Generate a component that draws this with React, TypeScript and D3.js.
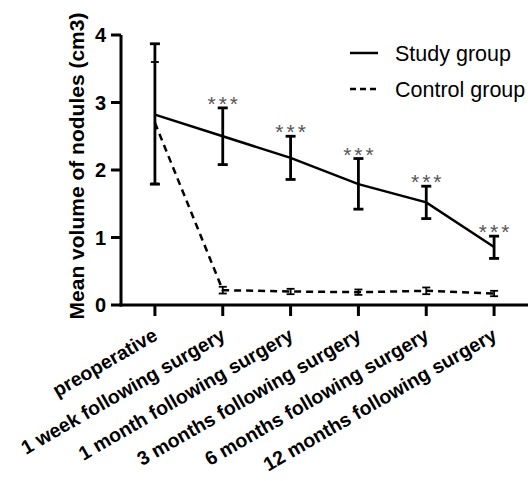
import React, { useRef, useEffect } from "react";
import * as d3 from "d3";

const timepoints = [
  "preoperative",
  "1 week following surgery",
  "1 month following surgery",
  "3 months following surgery",
  "6 months following surgery",
  "12 months following surgery",
];
const studyMean = [2.82, 2.5, 2.18, 1.79, 1.52, 0.86];
const studyLow = [1.79, 2.08, 1.86, 1.42, 1.28, 0.69];
const studyHigh = [3.87, 2.92, 2.5, 2.17, 1.76, 1.02];
const controlMean = [2.7, 0.22, 0.2, 0.19, 0.21, 0.17];
const controlLow = [1.8, 0.17, 0.16, 0.15, 0.16, 0.13];
const controlHigh = [3.6, 0.27, 0.24, 0.23, 0.26, 0.21];
const significance = ["", "***", "***", "***", "***", "***"];
const yTicks = [0, 1, 2, 3, 4];
const seriesNames = ["Study group", "Control group"];

const FONT = "'Liberation Sans', Arial, sans-serif";

function App() {
  const canvas = useRef(null);

  function drawChart() {
    const svg = d3.select(canvas.current).attr("width", 530).attr("height", 481);
    svg.selectAll("*").remove();

    const x = d3.scalePoint().domain(timepoints).range([121, 528]).padding(0.5);
    const y = d3.scaleLinear().domain([0, 4]).range([305, 35]);

    // axes
    svg.append("line")
      .attr("x1", 121).attr("x2", 121).attr("y1", y(0) + 1.5).attr("y2", y(4))
      .attr("stroke", "#000").attr("stroke-width", 3);
    svg.append("line")
      .attr("x1", 119.5).attr("x2", 528).attr("y1", y(0)).attr("y2", y(0))
      .attr("stroke", "#000").attr("stroke-width", 3);

    svg.selectAll(".ytick")
      .data(yTicks)
      .enter()
      .append("line")
      .attr("x1", 111).attr("x2", 121)
      .attr("y1", (d) => y(d)).attr("y2", (d) => y(d))
      .attr("stroke", "#000").attr("stroke-width", 3);

    svg.selectAll(".ylab")
      .data(yTicks)
      .enter()
      .append("text")
      .text((d) => d)
      .attr("x", 106)
      .attr("y", (d) => y(d) + 7)
      .attr("text-anchor", "end")
      .style("font-family", FONT)
      .style("font-weight", "bold")
      .style("font-size", "20px");

    svg.selectAll(".xtick")
      .data(timepoints)
      .enter()
      .append("line")
      .attr("x1", (d) => x(d)).attr("x2", (d) => x(d))
      .attr("y1", y(0)).attr("y2", y(0) + 11)
      .attr("stroke", "#000").attr("stroke-width", 3);

    svg.selectAll(".xlab")
      .data(timepoints)
      .enter()
      .append("text")
      .text((d) => d)
      .attr("text-anchor", "end")
      .attr("transform", (d) => `translate(${x(d) + 4}, ${y(0) + 34}) rotate(-30)`)
      .style("font-family", FONT)
      .style("font-weight", "bold")
      .style("font-size", "19.5px");

    svg.append("text")
      .text("Mean volume of nodules (cm3)")
      .attr("text-anchor", "middle")
      .attr("transform", `translate(84, 166) rotate(-90)`)
      .style("font-family", FONT)
      .style("font-weight", "bold")
      .style("font-size", "21px");

    const lineGen = d3.line<number>()
      .x((d, i) => x(timepoints[i]))
      .y((d) => y(d));

    // control group
    svg.append("path")
      .attr("d", lineGen(controlMean))
      .attr("fill", "none")
      .attr("stroke", "#000")
      .attr("stroke-width", 2.5)
      .attr("stroke-dasharray", "7,5");

    const drawBars = (low: number[], high: number[], capW: number, sw: number) => {
      timepoints.forEach((t, i) => {
        const cx = x(t);
        svg.append("line")
          .attr("x1", cx).attr("x2", cx).attr("y1", y(low[i])).attr("y2", y(high[i]))
          .attr("stroke", "#000").attr("stroke-width", sw);
        [low[i], high[i]].forEach((v) => {
          svg.append("line")
            .attr("x1", cx - capW).attr("x2", cx + capW)
            .attr("y1", y(v)).attr("y2", y(v))
            .attr("stroke", "#000").attr("stroke-width", sw);
        });
      });
    };

    drawBars(controlLow, controlHigh, 4, 1.8);

    // study group
    svg.append("path")
      .attr("d", lineGen(studyMean))
      .attr("fill", "none")
      .attr("stroke", "#000")
      .attr("stroke-width", 2.5);

    drawBars(studyLow, studyHigh, 5, 2.8);

    svg.selectAll(".sig")
      .data(significance)
      .enter()
      .append("text")
      .text((d) => d)
      .attr("x", (d, i) => x(timepoints[i]) + 1.5)
      .attr("y", (d, i) => y(studyHigh[i]) + 3)
      .attr("text-anchor", "middle")
      .attr("fill", "#555")
      .style("letter-spacing", "3px")
      .style("font-family", FONT)
      .style("font-size", "21px");

    // legend
    const legend = svg.append("g");
    seriesNames.forEach((name, i) => {
      const ly = 53 + i * 36;
      legend.append("line")
        .attr("x1", 350).attr("x2", 378).attr("y1", ly).attr("y2", ly)
        .attr("stroke", "#000").attr("stroke-width", 2.5)
        .attr("stroke-dasharray", i === 1 ? "6,4" : null);
      legend.append("text")
        .text(name)
        .attr("x", 395)
        .attr("y", ly + 8)
        .style("font-family", FONT)
        .style("font-size", "21.5px");
    });
  }

  useEffect(() => {
    drawChart();
  }, []);

  return (
    <div style={{ position: "absolute", left: 0, top: 0 }}>
      <svg ref={canvas}></svg>
    </div>
  );
}

export default App;
